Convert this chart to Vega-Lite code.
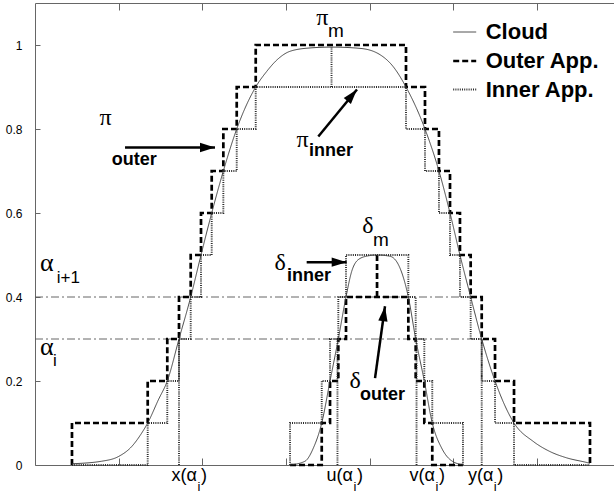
{
  "$schema": "https://vega.github.io/schema/vega-lite/v6.json",
  "width": 579,
  "height": 462,
  "autosize": "none",
  "padding": {"left": 35, "top": 3, "right": 0, "bottom": 32},
  "background": "white",
  "config": {
    "view": {"stroke": null},
    "axis": {"grid": false, "title": null, "domainColor": "#666666", "tickColor": "#666666", "labelColor": "#000000", "labelFont": "Liberation Sans", "labelFontSize": 12},
    "legend": {"orient": "none", "legendX": 416.7, "legendY": 17, "padding": 0, "title": null, "symbolType": "stroke", "symbolSize": 529, "labelFont": "Liberation Sans", "labelFontSize": 22, "labelFontWeight": "bold", "labelColor": "#000000", "labelOffset": 8, "rowPadding": 5}
  },
  "datasets": {
    "alpha": [{"x": 0, "x2": 5.207, "y": 0.4}, {"x": 0, "x2": 5.339, "y": 0.3}],
    "steps": [
      {"s": "Outer App.", "p": "po", "o": 1, "x": 0.442, "y": 0},
      {"s": "Outer App.", "p": "po", "o": 2, "x": 0.442, "y": 0.1},
      {"s": "Outer App.", "p": "po", "o": 3, "x": 1.347, "y": 0.1},
      {"s": "Outer App.", "p": "po", "o": 4, "x": 1.347, "y": 0.2},
      {"s": "Outer App.", "p": "po", "o": 5, "x": 1.581, "y": 0.2},
      {"s": "Outer App.", "p": "po", "o": 6, "x": 1.581, "y": 0.3},
      {"s": "Outer App.", "p": "po", "o": 7, "x": 1.721, "y": 0.3},
      {"s": "Outer App.", "p": "po", "o": 8, "x": 1.721, "y": 0.4},
      {"s": "Outer App.", "p": "po", "o": 9, "x": 1.861, "y": 0.4},
      {"s": "Outer App.", "p": "po", "o": 10, "x": 1.861, "y": 0.5},
      {"s": "Outer App.", "p": "po", "o": 11, "x": 1.984, "y": 0.5},
      {"s": "Outer App.", "p": "po", "o": 12, "x": 1.984, "y": 0.6},
      {"s": "Outer App.", "p": "po", "o": 13, "x": 2.112, "y": 0.6},
      {"s": "Outer App.", "p": "po", "o": 14, "x": 2.112, "y": 0.7},
      {"s": "Outer App.", "p": "po", "o": 15, "x": 2.251, "y": 0.7},
      {"s": "Outer App.", "p": "po", "o": 16, "x": 2.251, "y": 0.8},
      {"s": "Outer App.", "p": "po", "o": 17, "x": 2.411, "y": 0.8},
      {"s": "Outer App.", "p": "po", "o": 18, "x": 2.411, "y": 0.9},
      {"s": "Outer App.", "p": "po", "o": 19, "x": 2.638, "y": 0.9},
      {"s": "Outer App.", "p": "po", "o": 20, "x": 2.638, "y": 1.0},
      {"s": "Outer App.", "p": "po", "o": 21, "x": 4.434, "y": 1.0},
      {"s": "Outer App.", "p": "po", "o": 22, "x": 4.434, "y": 0.9},
      {"s": "Outer App.", "p": "po", "o": 23, "x": 4.661, "y": 0.9},
      {"s": "Outer App.", "p": "po", "o": 24, "x": 4.661, "y": 0.8},
      {"s": "Outer App.", "p": "po", "o": 25, "x": 4.828, "y": 0.8},
      {"s": "Outer App.", "p": "po", "o": 26, "x": 4.828, "y": 0.7},
      {"s": "Outer App.", "p": "po", "o": 27, "x": 4.960, "y": 0.7},
      {"s": "Outer App.", "p": "po", "o": 28, "x": 4.960, "y": 0.6},
      {"s": "Outer App.", "p": "po", "o": 29, "x": 5.079, "y": 0.6},
      {"s": "Outer App.", "p": "po", "o": 30, "x": 5.079, "y": 0.5},
      {"s": "Outer App.", "p": "po", "o": 31, "x": 5.207, "y": 0.5},
      {"s": "Outer App.", "p": "po", "o": 32, "x": 5.207, "y": 0.4},
      {"s": "Outer App.", "p": "po", "o": 33, "x": 5.339, "y": 0.4},
      {"s": "Outer App.", "p": "po", "o": 34, "x": 5.339, "y": 0.3},
      {"s": "Outer App.", "p": "po", "o": 35, "x": 5.498, "y": 0.3},
      {"s": "Outer App.", "p": "po", "o": 36, "x": 5.498, "y": 0.2},
      {"s": "Outer App.", "p": "po", "o": 37, "x": 5.725, "y": 0.2},
      {"s": "Outer App.", "p": "po", "o": 38, "x": 5.725, "y": 0.1},
      {"s": "Outer App.", "p": "po", "o": 39, "x": 6.633, "y": 0.1},
      {"s": "Outer App.", "p": "po", "o": 40, "x": 6.633, "y": 0},
      {"s": "Outer App.", "p": "do", "o": 1, "x": 3.048, "y": 0},
      {"s": "Outer App.", "p": "do", "o": 2, "x": 3.427, "y": 0},
      {"s": "Outer App.", "p": "do", "o": 3, "x": 3.427, "y": 0.1},
      {"s": "Outer App.", "p": "do", "o": 4, "x": 3.526, "y": 0.1},
      {"s": "Outer App.", "p": "do", "o": 5, "x": 3.526, "y": 0.2},
      {"s": "Outer App.", "p": "do", "o": 6, "x": 3.625, "y": 0.2},
      {"s": "Outer App.", "p": "do", "o": 7, "x": 3.625, "y": 0.3},
      {"s": "Outer App.", "p": "do", "o": 8, "x": 3.717, "y": 0.3},
      {"s": "Outer App.", "p": "do", "o": 9, "x": 3.717, "y": 0.4},
      {"s": "Outer App.", "p": "do", "o": 10, "x": 4.462, "y": 0.4},
      {"s": "Outer App.", "p": "do", "o": 11, "x": 4.462, "y": 0.3},
      {"s": "Outer App.", "p": "do", "o": 12, "x": 4.550, "y": 0.3},
      {"s": "Outer App.", "p": "do", "o": 13, "x": 4.550, "y": 0.2},
      {"s": "Outer App.", "p": "do", "o": 14, "x": 4.653, "y": 0.2},
      {"s": "Outer App.", "p": "do", "o": 15, "x": 4.653, "y": 0.1},
      {"s": "Outer App.", "p": "do", "o": 16, "x": 4.748, "y": 0.1},
      {"s": "Outer App.", "p": "do", "o": 17, "x": 4.748, "y": 0},
      {"s": "Outer App.", "p": "do", "o": 18, "x": 5.115, "y": 0},
      {"s": "Outer App.", "p": "dm", "o": 1, "x": 4.088, "y": 0.4},
      {"s": "Outer App.", "p": "dm", "o": 2, "x": 4.088, "y": 0.5},
      {"s": "Inner App.", "p": "pn", "o": 1, "x": 0.442, "y": 0},
      {"s": "Inner App.", "p": "pn", "o": 2, "x": 1.347, "y": 0},
      {"s": "Inner App.", "p": "pn", "o": 3, "x": 1.347, "y": 0.1},
      {"s": "Inner App.", "p": "pn", "o": 4, "x": 1.581, "y": 0.1},
      {"s": "Inner App.", "p": "pn", "o": 5, "x": 1.581, "y": 0.2},
      {"s": "Inner App.", "p": "pn", "o": 6, "x": 1.721, "y": 0.2},
      {"s": "Inner App.", "p": "pn", "o": 7, "x": 1.721, "y": 0.3},
      {"s": "Inner App.", "p": "pn", "o": 8, "x": 1.861, "y": 0.3},
      {"s": "Inner App.", "p": "pn", "o": 9, "x": 1.861, "y": 0.4},
      {"s": "Inner App.", "p": "pn", "o": 10, "x": 1.984, "y": 0.4},
      {"s": "Inner App.", "p": "pn", "o": 11, "x": 1.984, "y": 0.5},
      {"s": "Inner App.", "p": "pn", "o": 12, "x": 2.112, "y": 0.5},
      {"s": "Inner App.", "p": "pn", "o": 13, "x": 2.112, "y": 0.6},
      {"s": "Inner App.", "p": "pn", "o": 14, "x": 2.251, "y": 0.6},
      {"s": "Inner App.", "p": "pn", "o": 15, "x": 2.251, "y": 0.7},
      {"s": "Inner App.", "p": "pn", "o": 16, "x": 2.411, "y": 0.7},
      {"s": "Inner App.", "p": "pn", "o": 17, "x": 2.411, "y": 0.8},
      {"s": "Inner App.", "p": "pn", "o": 18, "x": 2.638, "y": 0.8},
      {"s": "Inner App.", "p": "pn", "o": 19, "x": 2.638, "y": 0.9},
      {"s": "Inner App.", "p": "pn", "o": 20, "x": 4.434, "y": 0.9},
      {"s": "Inner App.", "p": "pn", "o": 21, "x": 4.434, "y": 0.8},
      {"s": "Inner App.", "p": "pn", "o": 22, "x": 4.661, "y": 0.8},
      {"s": "Inner App.", "p": "pn", "o": 23, "x": 4.661, "y": 0.7},
      {"s": "Inner App.", "p": "pn", "o": 24, "x": 4.828, "y": 0.7},
      {"s": "Inner App.", "p": "pn", "o": 25, "x": 4.828, "y": 0.6},
      {"s": "Inner App.", "p": "pn", "o": 26, "x": 4.960, "y": 0.6},
      {"s": "Inner App.", "p": "pn", "o": 27, "x": 4.960, "y": 0.5},
      {"s": "Inner App.", "p": "pn", "o": 28, "x": 5.079, "y": 0.5},
      {"s": "Inner App.", "p": "pn", "o": 29, "x": 5.079, "y": 0.4},
      {"s": "Inner App.", "p": "pn", "o": 30, "x": 5.207, "y": 0.4},
      {"s": "Inner App.", "p": "pn", "o": 31, "x": 5.207, "y": 0.3},
      {"s": "Inner App.", "p": "pn", "o": 32, "x": 5.339, "y": 0.3},
      {"s": "Inner App.", "p": "pn", "o": 33, "x": 5.339, "y": 0.2},
      {"s": "Inner App.", "p": "pn", "o": 34, "x": 5.498, "y": 0.2},
      {"s": "Inner App.", "p": "pn", "o": 35, "x": 5.498, "y": 0.1},
      {"s": "Inner App.", "p": "pn", "o": 36, "x": 5.725, "y": 0.1},
      {"s": "Inner App.", "p": "pn", "o": 37, "x": 5.725, "y": 0},
      {"s": "Inner App.", "p": "pn", "o": 38, "x": 6.633, "y": 0},
      {"s": "Inner App.", "p": "dn", "o": 1, "x": 3.048, "y": 0},
      {"s": "Inner App.", "p": "dn", "o": 2, "x": 3.048, "y": 0.1},
      {"s": "Inner App.", "p": "dn", "o": 3, "x": 3.427, "y": 0.1},
      {"s": "Inner App.", "p": "dn", "o": 4, "x": 3.427, "y": 0.2},
      {"s": "Inner App.", "p": "dn", "o": 5, "x": 3.526, "y": 0.2},
      {"s": "Inner App.", "p": "dn", "o": 6, "x": 3.526, "y": 0.3},
      {"s": "Inner App.", "p": "dn", "o": 7, "x": 3.625, "y": 0.3},
      {"s": "Inner App.", "p": "dn", "o": 8, "x": 3.625, "y": 0.4},
      {"s": "Inner App.", "p": "dn", "o": 9, "x": 3.717, "y": 0.4},
      {"s": "Inner App.", "p": "dn", "o": 10, "x": 3.717, "y": 0.5},
      {"s": "Inner App.", "p": "dn", "o": 11, "x": 4.462, "y": 0.5},
      {"s": "Inner App.", "p": "dn", "o": 12, "x": 4.462, "y": 0.4},
      {"s": "Inner App.", "p": "dn", "o": 13, "x": 4.550, "y": 0.4},
      {"s": "Inner App.", "p": "dn", "o": 14, "x": 4.550, "y": 0.3},
      {"s": "Inner App.", "p": "dn", "o": 15, "x": 4.653, "y": 0.3},
      {"s": "Inner App.", "p": "dn", "o": 16, "x": 4.653, "y": 0.2},
      {"s": "Inner App.", "p": "dn", "o": 17, "x": 4.748, "y": 0.2},
      {"s": "Inner App.", "p": "dn", "o": 18, "x": 4.748, "y": 0.1},
      {"s": "Inner App.", "p": "dn", "o": 19, "x": 5.115, "y": 0.1},
      {"s": "Inner App.", "p": "dn", "o": 20, "x": 5.115, "y": 0},
      {"s": "Inner App.", "p": "pm", "o": 1, "x": 3.544, "y": 0.9},
      {"s": "Inner App.", "p": "pm", "o": 2, "x": 3.544, "y": 0.995},
      {"s": "Inner App.", "p": "mx", "o": 1, "x": 1.721, "y": 0},
      {"s": "Inner App.", "p": "mx", "o": 2, "x": 1.721, "y": 0.3},
      {"s": "Inner App.", "p": "mu", "o": 1, "x": 3.615, "y": 0},
      {"s": "Inner App.", "p": "mu", "o": 2, "x": 3.615, "y": 0.3},
      {"s": "Inner App.", "p": "mv", "o": 1, "x": 4.560, "y": 0},
      {"s": "Inner App.", "p": "mv", "o": 2, "x": 4.560, "y": 0.3},
      {"s": "Inner App.", "p": "my", "o": 1, "x": 5.339, "y": 0},
      {"s": "Inner App.", "p": "my", "o": 2, "x": 5.339, "y": 0.3}
    ],
    "cloud": [
      {"s": "Cloud", "p": "pi", "x": 0.442, "y": 0.003},
      {"s": "Cloud", "p": "pi", "x": 0.797, "y": 0.009},
      {"s": "Cloud", "p": "pi", "x": 0.996, "y": 0.02},
      {"s": "Cloud", "p": "pi", "x": 1.156, "y": 0.044},
      {"s": "Cloud", "p": "pi", "x": 1.275, "y": 0.076},
      {"s": "Cloud", "p": "pi", "x": 1.347, "y": 0.1},
      {"s": "Cloud", "p": "pi", "x": 1.474, "y": 0.155},
      {"s": "Cloud", "p": "pi", "x": 1.581, "y": 0.2},
      {"s": "Cloud", "p": "pi", "x": 1.721, "y": 0.3},
      {"s": "Cloud", "p": "pi", "x": 1.861, "y": 0.4},
      {"s": "Cloud", "p": "pi", "x": 1.984, "y": 0.5},
      {"s": "Cloud", "p": "pi", "x": 2.112, "y": 0.6},
      {"s": "Cloud", "p": "pi", "x": 2.251, "y": 0.7},
      {"s": "Cloud", "p": "pi", "x": 2.411, "y": 0.8},
      {"s": "Cloud", "p": "pi", "x": 2.638, "y": 0.9},
      {"s": "Cloud", "p": "pi", "x": 2.769, "y": 0.937},
      {"s": "Cloud", "p": "pi", "x": 2.9, "y": 0.966},
      {"s": "Cloud", "p": "pi", "x": 3.048, "y": 0.985},
      {"s": "Cloud", "p": "pi", "x": 3.287, "y": 0.993},
      {"s": "Cloud", "p": "pi", "x": 3.544, "y": 0.995},
      {"s": "Cloud", "p": "pi", "x": 3.884, "y": 0.992},
      {"s": "Cloud", "p": "pi", "x": 4.123, "y": 0.977},
      {"s": "Cloud", "p": "pi", "x": 4.279, "y": 0.949},
      {"s": "Cloud", "p": "pi", "x": 4.434, "y": 0.9},
      {"s": "Cloud", "p": "pi", "x": 4.661, "y": 0.8},
      {"s": "Cloud", "p": "pi", "x": 4.828, "y": 0.7},
      {"s": "Cloud", "p": "pi", "x": 4.960, "y": 0.6},
      {"s": "Cloud", "p": "pi", "x": 5.079, "y": 0.5},
      {"s": "Cloud", "p": "pi", "x": 5.207, "y": 0.4},
      {"s": "Cloud", "p": "pi", "x": 5.339, "y": 0.3},
      {"s": "Cloud", "p": "pi", "x": 5.498, "y": 0.2},
      {"s": "Cloud", "p": "pi", "x": 5.725, "y": 0.1},
      {"s": "Cloud", "p": "pi", "x": 5.956, "y": 0.056},
      {"s": "Cloud", "p": "pi", "x": 6.155, "y": 0.032},
      {"s": "Cloud", "p": "pi", "x": 6.355, "y": 0.017},
      {"s": "Cloud", "p": "pi", "x": 6.594, "y": 0.006},
      {"s": "Cloud", "p": "pi", "x": 6.633, "y": 0.004},
      {"s": "Cloud", "p": "d", "x": 3.048, "y": 0.0},
      {"s": "Cloud", "p": "d", "x": 3.227, "y": 0.009},
      {"s": "Cloud", "p": "d", "x": 3.326, "y": 0.04},
      {"s": "Cloud", "p": "d", "x": 3.427, "y": 0.1},
      {"s": "Cloud", "p": "d", "x": 3.526, "y": 0.2},
      {"s": "Cloud", "p": "d", "x": 3.625, "y": 0.3},
      {"s": "Cloud", "p": "d", "x": 3.717, "y": 0.4},
      {"s": "Cloud", "p": "d", "x": 3.785, "y": 0.461},
      {"s": "Cloud", "p": "d", "x": 3.864, "y": 0.489},
      {"s": "Cloud", "p": "d", "x": 3.983, "y": 0.498},
      {"s": "Cloud", "p": "d", "x": 4.088, "y": 0.5},
      {"s": "Cloud", "p": "d", "x": 4.243, "y": 0.497},
      {"s": "Cloud", "p": "d", "x": 4.362, "y": 0.469},
      {"s": "Cloud", "p": "d", "x": 4.462, "y": 0.4},
      {"s": "Cloud", "p": "d", "x": 4.550, "y": 0.3},
      {"s": "Cloud", "p": "d", "x": 4.653, "y": 0.2},
      {"s": "Cloud", "p": "d", "x": 4.748, "y": 0.1},
      {"s": "Cloud", "p": "d", "x": 4.861, "y": 0.04},
      {"s": "Cloud", "p": "d", "x": 4.960, "y": 0.013},
      {"s": "Cloud", "p": "d", "x": 5.115, "y": 0.0}
    ],
    "arrows": [
      {"n": "pouter", "x": 1.076, "y": 0.756, "x2": 2.151, "y2": 0.756},
      {"n": "dinner", "x": 3.247, "y": 0.483, "x2": 3.725, "y2": 0.483},
      {"n": "pinner", "x": 3.386, "y": 0.782, "x2": 3.848, "y2": 0.894},
      {"n": "douter", "x": 4.064, "y": 0.207, "x2": 4.183, "y2": 0.378}
    ],
    "greek": [
      {"t": "π", "x": 0.770, "y": 0.810},
      {"t": "π", "x": 3.125, "y": 0.758},
      {"t": "π", "x": 3.360, "y": 1.048},
      {"t": "δ", "x": 3.910, "y": 0.553},
      {"t": "δ", "x": 2.862, "y": 0.465},
      {"t": "δ", "x": 3.758, "y": 0.183}
    ],
    "alphas": [
      {"t": "α", "x": 0.060, "y": 0.461},
      {"t": "α", "x": 0.060, "y": 0.263}
    ],
    "bold": [
      {"t": "outer", "x": 0.917, "y": 0.715},
      {"t": "inner", "x": 3.275, "y": 0.735},
      {"t": "inner", "x": 3.012, "y": 0.437},
      {"t": "outer", "x": 3.884, "y": 0.155}
    ],
    "msub": [
      {"t": "m", "x": 3.502, "y": 1.020},
      {"t": "m", "x": 4.040, "y": 0.521}
    ],
    "isub": [
      {"t": "i+1", "x": 0.259, "y": 0.433},
      {"t": "i", "x": 0.215, "y": 0.235}
    ],
    "xl": [
      {"pre": "x(α", "x": 1.936},
      {"pre": "u(α", "x": 3.801},
      {"pre": "v(α", "x": 4.781},
      {"pre": "y(α", "x": 5.478}
    ]
  },
  "resolve": {"axis": {"x": "independent"}},
  "layer": [
    {
      "data": {"name": "alpha"},
      "mark": {"type": "rule", "color": "#555555", "strokeWidth": 0.9, "strokeDash": [8, 3, 2, 3]},
      "encoding": {
        "x": {"field": "x", "type": "quantitative", "scale": {"domain": [0, 6.92], "nice": false, "zero": false},
              "axis": {"orient": "bottom", "values": [1, 2, 3, 4, 5, 6], "labels": false, "tickSize": -7}},
        "x2": {"field": "x2"},
        "y": {"field": "y", "type": "quantitative", "scale": {"domain": [0, 1.1], "nice": false, "zero": false},
              "axis": {"orient": "left", "values": [0, 0.2, 0.4, 0.6, 0.8, 1], "format": "~g", "tickSize": -5, "labelPadding": 18}}
      }
    },
    {
      "data": {"name": "steps"},
      "mark": {"type": "line"},
      "encoding": {
        "x": {"field": "x", "type": "quantitative", "scale": {"domain": [0, 6.92], "nice": false, "zero": false},
              "axis": {"orient": "top", "values": [1, 2, 3, 4, 5, 6], "labels": false, "tickSize": -7}},
        "y": {"field": "y", "type": "quantitative", "scale": {"domain": [0, 1.1], "nice": false, "zero": false}},
        "detail": {"field": "p"},
        "order": {"field": "o", "type": "quantitative"},
        "color": {"field": "s", "type": "nominal", "scale": {"domain": ["Cloud", "Outer App.", "Inner App."], "range": ["#333333", "#000000", "#2a2a2a"]}},
        "strokeDash": {"field": "s", "type": "nominal", "scale": {"domain": ["Cloud", "Outer App.", "Inner App."], "range": [[1, 0], [6, 3], [1, 1.2]]}},
        "strokeWidth": {"field": "s", "type": "nominal", "scale": {"type": "ordinal", "domain": ["Cloud", "Outer App.", "Inner App."], "range": [0.9, 2.7, 1.9]}}
      }
    },
    {
      "data": {"name": "cloud"},
      "mark": {"type": "line", "interpolate": "monotone"},
      "encoding": {
        "x": {"field": "x", "type": "quantitative", "scale": {"domain": [0, 6.92], "nice": false, "zero": false}, "axis": null},
        "y": {"field": "y", "type": "quantitative", "scale": {"domain": [0, 1.1], "nice": false, "zero": false}},
        "detail": {"field": "p"},
        "color": {"field": "s", "type": "nominal", "scale": {"domain": ["Cloud", "Outer App.", "Inner App."], "range": ["#333333", "#000000", "#2a2a2a"]}},
        "strokeDash": {"field": "s", "type": "nominal", "scale": {"domain": ["Cloud", "Outer App.", "Inner App."], "range": [[1, 0], [6, 3], [1, 1.2]]}},
        "strokeWidth": {"field": "s", "type": "nominal", "scale": {"type": "ordinal", "domain": ["Cloud", "Outer App.", "Inner App."], "range": [0.9, 2.7, 1.9]}}
      }
    },
    {
      "data": {"name": "arrows"},
      "mark": {"type": "rule", "color": "#000000", "strokeWidth": 2.5},
      "encoding": {
        "x": {"field": "x", "type": "quantitative", "scale": {"domain": [0, 6.92], "nice": false, "zero": false}, "axis": null},
        "y": {"field": "y", "type": "quantitative", "scale": {"domain": [0, 1.1], "nice": false, "zero": false}},
        "x2": {"field": "x2"},
        "y2": {"field": "y2"}
      }
    },
    {
      "data": {"name": "arrows"},
      "transform": [{"filter": "datum.n === 'pouter' || datum.n === 'dinner'"}],
      "mark": {"type": "point", "shape": "M0,0L0.62,2L-0.62,2Z", "filled": true, "size": 225, "angle": 90, "color": "#000000", "opacity": 1},
      "encoding": {
        "x": {"field": "x2", "type": "quantitative", "scale": {"domain": [0, 6.92], "nice": false, "zero": false}, "axis": null},
        "y": {"field": "y2", "type": "quantitative", "scale": {"domain": [0, 1.1], "nice": false, "zero": false}}
      }
    },
    {
      "data": {"name": "arrows"},
      "transform": [{"filter": "datum.n === 'pinner'"}],
      "mark": {"type": "point", "shape": "M0,0L0.62,2L-0.62,2Z", "filled": true, "size": 225, "angle": 40, "color": "#000000", "opacity": 1},
      "encoding": {
        "x": {"field": "x2", "type": "quantitative", "scale": {"domain": [0, 6.92], "nice": false, "zero": false}, "axis": null},
        "y": {"field": "y2", "type": "quantitative", "scale": {"domain": [0, 1.1], "nice": false, "zero": false}}
      }
    },
    {
      "data": {"name": "arrows"},
      "transform": [{"filter": "datum.n === 'douter'"}],
      "mark": {"type": "point", "shape": "M0,0L0.62,2L-0.62,2Z", "filled": true, "size": 225, "angle": 8, "color": "#000000", "opacity": 1},
      "encoding": {
        "x": {"field": "x2", "type": "quantitative", "scale": {"domain": [0, 6.92], "nice": false, "zero": false}, "axis": null},
        "y": {"field": "y2", "type": "quantitative", "scale": {"domain": [0, 1.1], "nice": false, "zero": false}}
      }
    },
    {
      "data": {"name": "greek"},
      "mark": {"type": "text", "align": "left", "baseline": "alphabetic", "font": "Liberation Serif", "fontSize": 24, "color": "#000000"},
      "encoding": {
        "x": {"field": "x", "type": "quantitative", "scale": {"domain": [0, 6.92], "nice": false, "zero": false}, "axis": null},
        "y": {"field": "y", "type": "quantitative", "scale": {"domain": [0, 1.1], "nice": false, "zero": false}},
        "text": {"field": "t"}
      }
    },
    {
      "data": {"name": "alphas"},
      "mark": {"type": "text", "align": "left", "baseline": "alphabetic", "font": "Liberation Serif", "fontSize": 26, "color": "#000000"},
      "encoding": {
        "x": {"field": "x", "type": "quantitative", "scale": {"domain": [0, 6.92], "nice": false, "zero": false}, "axis": null},
        "y": {"field": "y", "type": "quantitative", "scale": {"domain": [0, 1.1], "nice": false, "zero": false}},
        "text": {"field": "t"}
      }
    },
    {
      "data": {"name": "bold"},
      "mark": {"type": "text", "align": "left", "baseline": "alphabetic", "font": "Liberation Sans", "fontSize": 18, "fontWeight": "bold", "color": "#000000"},
      "encoding": {
        "x": {"field": "x", "type": "quantitative", "scale": {"domain": [0, 6.92], "nice": false, "zero": false}, "axis": null},
        "y": {"field": "y", "type": "quantitative", "scale": {"domain": [0, 1.1], "nice": false, "zero": false}},
        "text": {"field": "t"}
      }
    },
    {
      "data": {"name": "msub"},
      "mark": {"type": "text", "align": "left", "baseline": "alphabetic", "font": "Liberation Sans", "fontSize": 19, "color": "#000000"},
      "encoding": {
        "x": {"field": "x", "type": "quantitative", "scale": {"domain": [0, 6.92], "nice": false, "zero": false}, "axis": null},
        "y": {"field": "y", "type": "quantitative", "scale": {"domain": [0, 1.1], "nice": false, "zero": false}},
        "text": {"field": "t"}
      }
    },
    {
      "data": {"name": "isub"},
      "mark": {"type": "text", "align": "left", "baseline": "alphabetic", "font": "Liberation Sans", "fontSize": 17, "color": "#000000"},
      "encoding": {
        "x": {"field": "x", "type": "quantitative", "scale": {"domain": [0, 6.92], "nice": false, "zero": false}, "axis": null},
        "y": {"field": "y", "type": "quantitative", "scale": {"domain": [0, 1.1], "nice": false, "zero": false}},
        "text": {"field": "t"}
      }
    },
    {
      "data": {"name": "xl"},
      "mark": {"type": "text", "align": "right", "baseline": "alphabetic", "font": "Liberation Sans", "fontSize": 18, "color": "#000000"},
      "encoding": {
        "x": {"field": "x", "type": "quantitative", "scale": {"domain": [0, 6.92], "nice": false, "zero": false}, "axis": null},
        "y": {"datum": -0.0374, "type": "quantitative", "scale": {"domain": [0, 1.1], "nice": false, "zero": false}},
        "text": {"field": "pre"}
      }
    },
    {
      "data": {"name": "xl"},
      "mark": {"type": "text", "align": "left", "baseline": "alphabetic", "font": "Liberation Sans", "fontSize": 13, "color": "#000000", "dx": 0.5},
      "encoding": {
        "x": {"field": "x", "type": "quantitative", "scale": {"domain": [0, 6.92], "nice": false, "zero": false}, "axis": null},
        "y": {"datum": -0.061, "type": "quantitative", "scale": {"domain": [0, 1.1], "nice": false, "zero": false}},
        "text": {"value": "i"}
      }
    },
    {
      "data": {"name": "xl"},
      "mark": {"type": "text", "align": "left", "baseline": "alphabetic", "font": "Liberation Sans", "fontSize": 18, "color": "#000000", "dx": 4},
      "encoding": {
        "x": {"field": "x", "type": "quantitative", "scale": {"domain": [0, 6.92], "nice": false, "zero": false}, "axis": null},
        "y": {"datum": -0.0374, "type": "quantitative", "scale": {"domain": [0, 1.1], "nice": false, "zero": false}},
        "text": {"value": ")"}
      }
    }
  ]
}
